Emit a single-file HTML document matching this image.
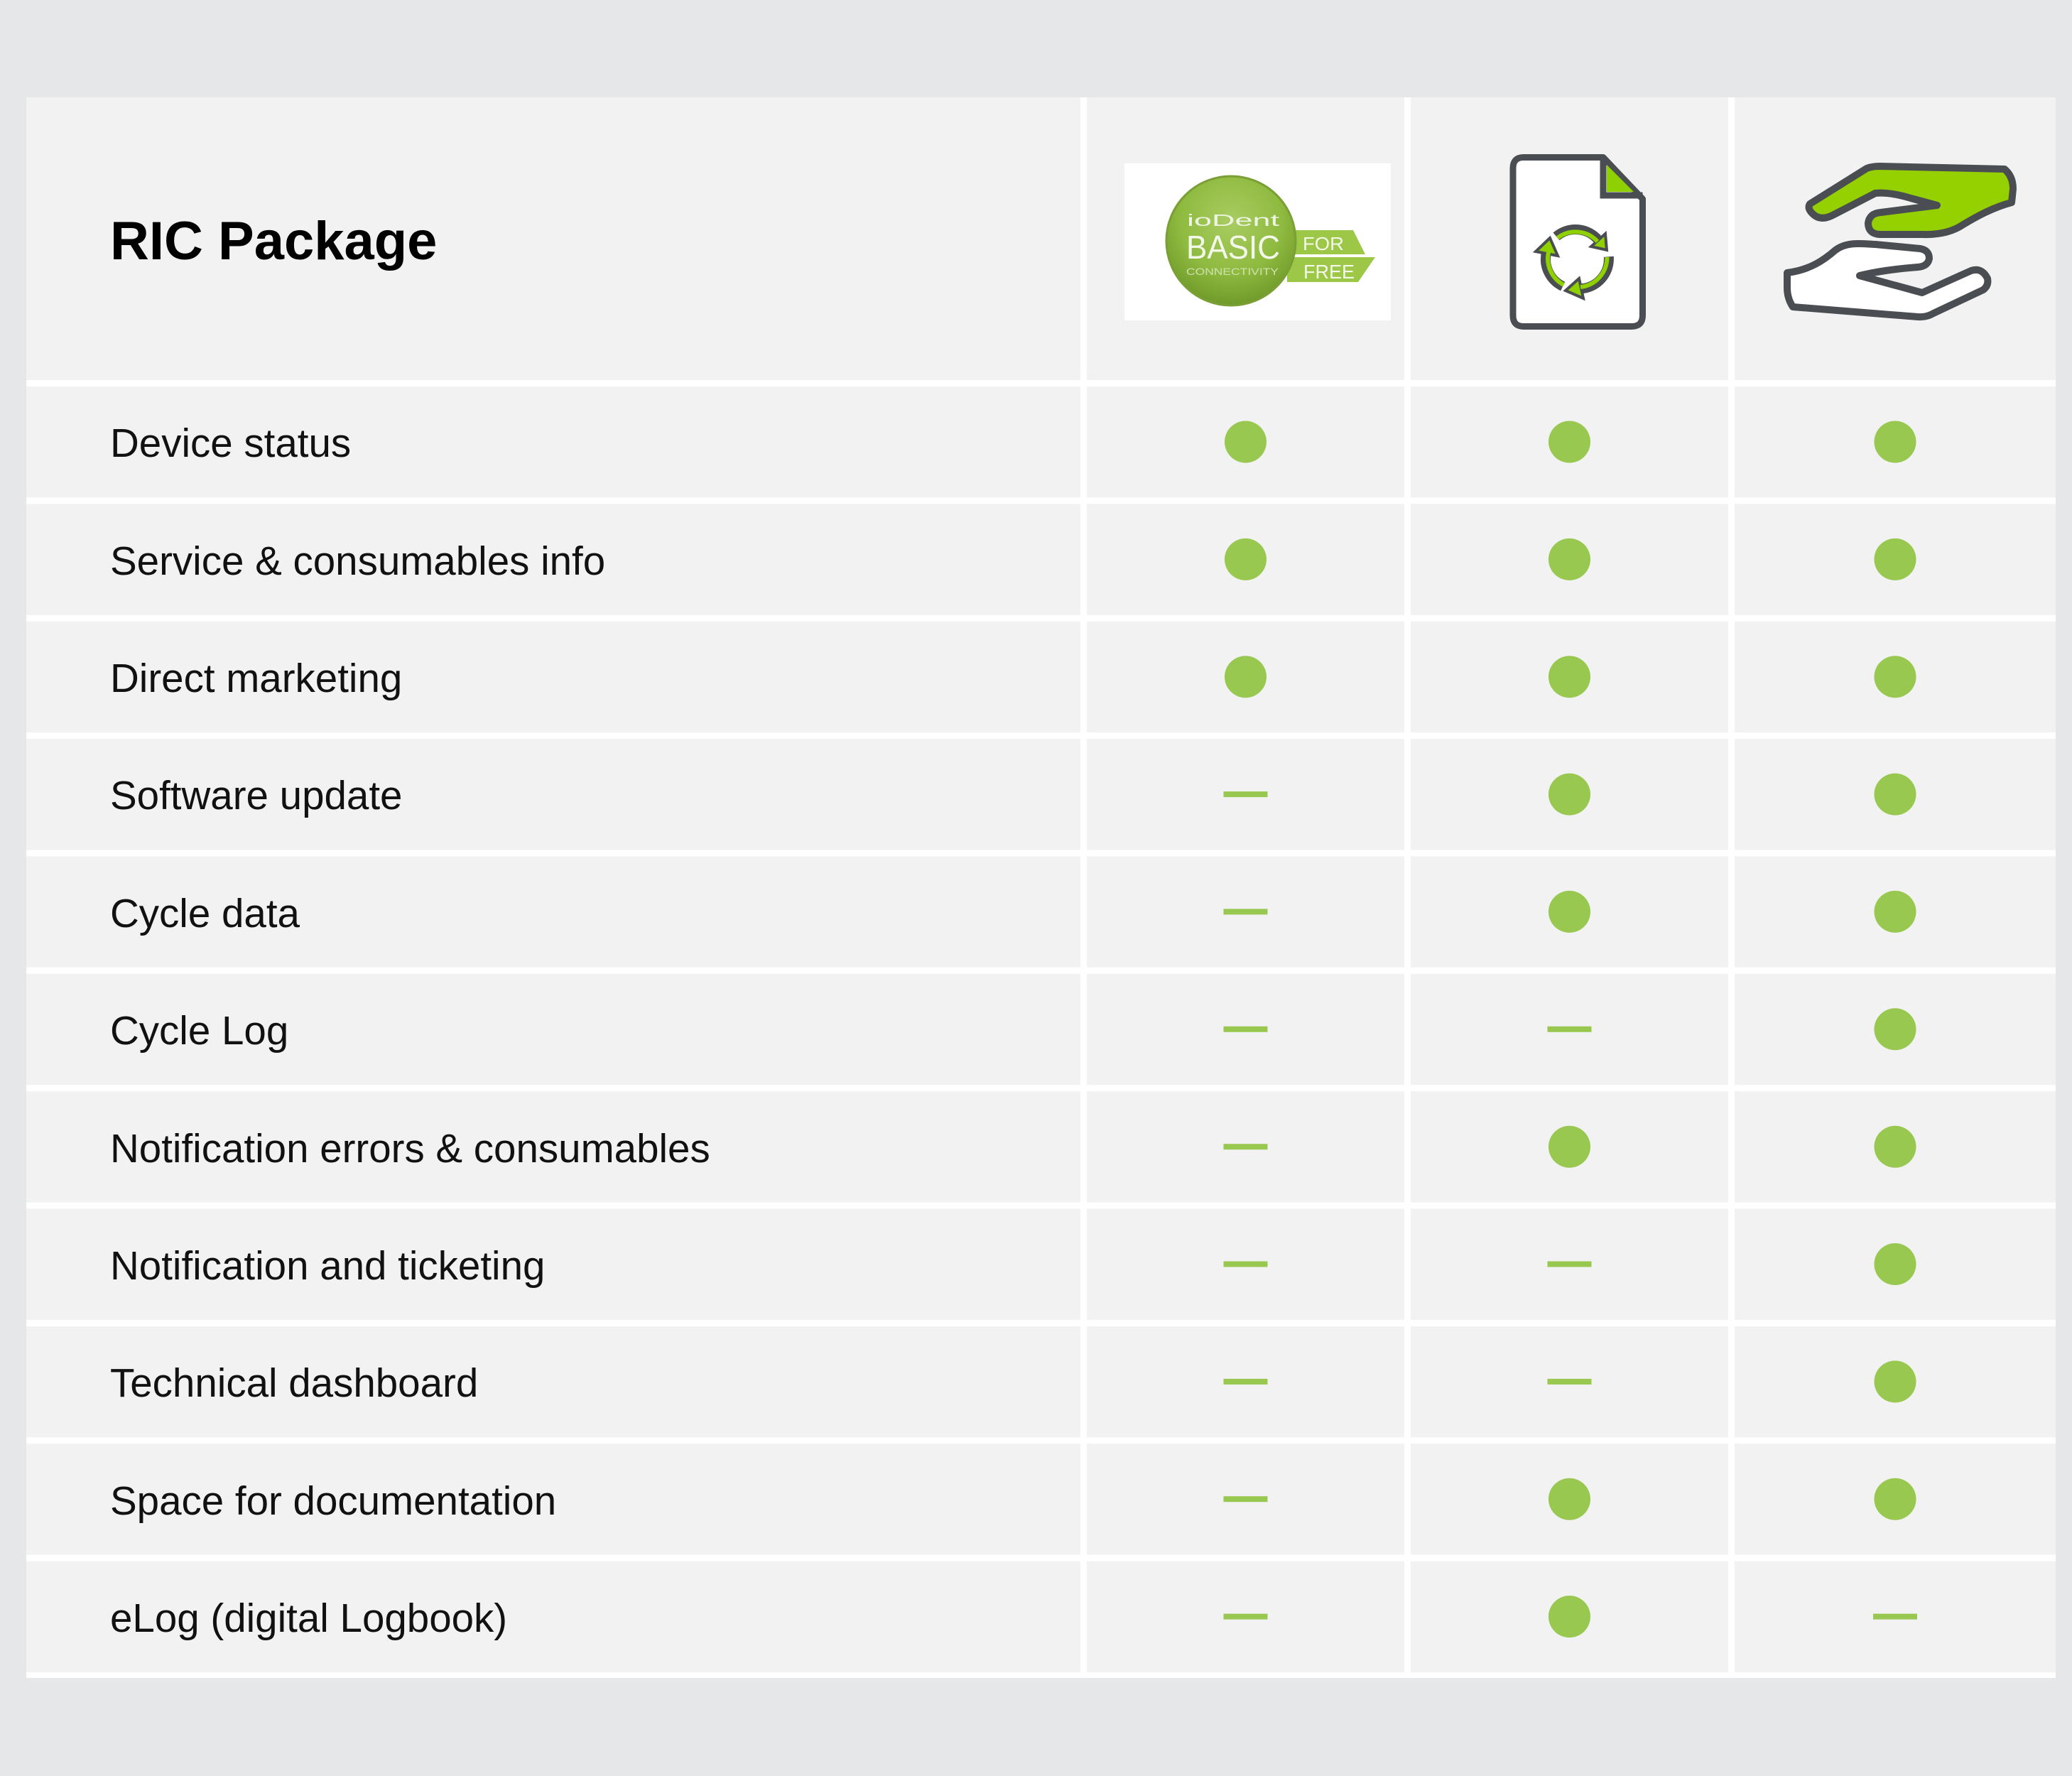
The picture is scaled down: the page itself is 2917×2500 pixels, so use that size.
<!DOCTYPE html>
<html>
<head>
<meta charset="utf-8">
<style>
  html,body{margin:0;padding:0;background:#e6e7e8;}
  svg{display:block;}
  text{font-family:"Liberation Sans", Arial, sans-serif;}
</style>
</head>
<body>
<svg width="2917" height="2500" viewBox="0 0 2917 2500" xmlns="http://www.w3.org/2000/svg">
  <defs>
    <radialGradient id="lg" cx="50%" cy="35%" r="65%">
      <stop offset="0" stop-color="#a9cc62"/>
      <stop offset="0.6" stop-color="#8fbb40"/>
      <stop offset="1" stop-color="#6f9a2a"/>
    </radialGradient>
  </defs>
  <rect x="0" y="0" width="2917" height="2500" fill="#e6e7e8"/>
  <!-- table base (white separators) -->
  <rect x="37" y="137" width="2857" height="2225" fill="#ffffff"/>

  <!-- header cells -->
  <g fill="#f1f2f1">
    <rect x="37" y="137" width="1484" height="398"/>
    <rect x="1530" y="137" width="447" height="398"/>
    <rect x="1986" y="137" width="447" height="398"/>
    <rect x="2442" y="137" width="452" height="398"/>
  </g>

  <!-- body cells -->
  <g fill="#f1f2f1">
    <rect x="37" y="544" width="1484" height="156.4"/><rect x="1530" y="544" width="447" height="156.4"/><rect x="1986" y="544" width="447" height="156.4"/><rect x="2442" y="544" width="452" height="156.4"/>
    <rect x="37" y="709.4" width="1484" height="156.4"/><rect x="1530" y="709.4" width="447" height="156.4"/><rect x="1986" y="709.4" width="447" height="156.4"/><rect x="2442" y="709.4" width="452" height="156.4"/>
    <rect x="37" y="874.7" width="1484" height="156.4"/><rect x="1530" y="874.7" width="447" height="156.4"/><rect x="1986" y="874.7" width="447" height="156.4"/><rect x="2442" y="874.7" width="452" height="156.4"/>
    <rect x="37" y="1040.1" width="1484" height="156.4"/><rect x="1530" y="1040.1" width="447" height="156.4"/><rect x="1986" y="1040.1" width="447" height="156.4"/><rect x="2442" y="1040.1" width="452" height="156.4"/>
    <rect x="37" y="1205.4" width="1484" height="156.4"/><rect x="1530" y="1205.4" width="447" height="156.4"/><rect x="1986" y="1205.4" width="447" height="156.4"/><rect x="2442" y="1205.4" width="452" height="156.4"/>
    <rect x="37" y="1370.8" width="1484" height="156.4"/><rect x="1530" y="1370.8" width="447" height="156.4"/><rect x="1986" y="1370.8" width="447" height="156.4"/><rect x="2442" y="1370.8" width="452" height="156.4"/>
    <rect x="37" y="1536.2" width="1484" height="156.4"/><rect x="1530" y="1536.2" width="447" height="156.4"/><rect x="1986" y="1536.2" width="447" height="156.4"/><rect x="2442" y="1536.2" width="452" height="156.4"/>
    <rect x="37" y="1701.5" width="1484" height="156.4"/><rect x="1530" y="1701.5" width="447" height="156.4"/><rect x="1986" y="1701.5" width="447" height="156.4"/><rect x="2442" y="1701.5" width="452" height="156.4"/>
    <rect x="37" y="1866.9" width="1484" height="156.4"/><rect x="1530" y="1866.9" width="447" height="156.4"/><rect x="1986" y="1866.9" width="447" height="156.4"/><rect x="2442" y="1866.9" width="452" height="156.4"/>
    <rect x="37" y="2032.2" width="1484" height="156.4"/><rect x="1530" y="2032.2" width="447" height="156.4"/><rect x="1986" y="2032.2" width="447" height="156.4"/><rect x="2442" y="2032.2" width="452" height="156.4"/>
    <rect x="37" y="2197.6" width="1484" height="156.4"/><rect x="1530" y="2197.6" width="447" height="156.4"/><rect x="1986" y="2197.6" width="447" height="156.4"/><rect x="2442" y="2197.6" width="452" height="156.4"/>
  </g>

  <!-- Header title -->
  <text x="155" y="365" font-size="76" font-weight="bold" fill="#000">RIC Package</text>

  <!-- Logo: ioDent BASIC -->
  <rect x="1583" y="230" width="375" height="221" fill="#ffffff"/>
  <polygon points="1812,324 1905,324 1922,358 1812,358" fill="#9cc747"/>
  <polygon points="1812,362 1936,362 1912,397 1812,397" fill="#9cc747"/>
  <circle cx="1733" cy="339" r="91" fill="url(#lg)" stroke="#7a9f35" stroke-width="3"/>
  <text x="1671" y="318" font-size="23" fill="#eef4e2" textLength="130" lengthAdjust="spacingAndGlyphs">ioDent</text>
  <text x="1670" y="364" font-size="46" fill="#f3f8ea" textLength="132" lengthAdjust="spacingAndGlyphs">BASIC</text>
  <text x="1670" y="387" font-size="14" fill="#cfe0ae" textLength="130" lengthAdjust="spacingAndGlyphs">CONNECTIVITY</text>
  <text x="1834" y="352" font-size="26" fill="#f3f8ea" textLength="58" lengthAdjust="spacingAndGlyphs">FOR</text>
  <text x="1835" y="392" font-size="28" fill="#f3f8ea" textLength="72" lengthAdjust="spacingAndGlyphs">FREE</text>

  <!-- Document with recycle icon -->
  <path d="M2145,221.5 L2257,221.5 L2312.5,280 L2312.5,444 Q2312.5,459.5 2297,459.5 L2145,459.5 Q2130,459.5 2130,444 L2130,237 Q2130,221.5 2145,221.5 Z" fill="#ffffff" stroke="#4a4d52" stroke-width="9" stroke-linejoin="round"/>
  <polygon points="2262,232 2262,270 2300,270" fill="#8fd100"/>
  <path d="M2257,221.5 L2257,275 L2312.5,275" fill="none" stroke="#4a4d52" stroke-width="9"/>
  <g fill="none" stroke-linecap="butt">
    <path d="M2191,332.8 A42,42 0 0 1 2250.2,338" stroke="#4a4d52" stroke-width="14"/>
    <path d="M2264.8,361.3 A42,42 0 0 1 2225.3,406.4" stroke="#4a4d52" stroke-width="14"/>
    <path d="M2200.2,403 A42,42 0 0 1 2177.4,354.1" stroke="#4a4d52" stroke-width="14"/>
  </g>
  <g fill="#8fd100" stroke="#4a4d52" stroke-width="4" stroke-linejoin="miter">
    <polygon points="2262,352 2260,329 2240,347"/>
    <polygon points="2204,409 2223,392 2229,420"/>
    <polygon points="2182,335 2162,354 2193,360"/>
  </g>
  <g fill="none" stroke="#8fd100" stroke-width="6">
    <path d="M2192.5,335 A42,42 0 0 1 2249,340"/>
    <path d="M2262.5,362 A42,42 0 0 1 2225,404"/>
    <path d="M2201.5,401 A42,42 0 0 1 2180,355"/>
  </g>

  <!-- Hands icon -->
  <path d="M2548,287 L2628,237 Q2636,234 2646,234 L2822,238 Q2834,248 2834,266 L2832,285 C2806,292 2784,304 2764,316 Q2742,331 2707,330 L2646,330 Q2630,329 2630,314 Q2632,300 2648,299 L2727,289 L2690,279 Q2660,270 2640,272 L2580,303 Q2562,312 2551,300 Q2544,293 2548,287 Z" fill="#95d100" stroke="#4a4d52" stroke-width="10" stroke-linejoin="round"/>
  <path d="M2516,384 C2548,380 2568,366 2584,352 C2600,340 2620,343 2640,344 L2703,350 Q2716,352 2716,364 Q2714,375 2700,376 Q2650,380 2618,388 L2706,412 L2775,381 Q2790,376 2798,392 Q2800,402 2792,408 L2722,441 Q2712,447 2700,446 L2524,432 Q2516,420 2516,405 Z" fill="#ffffff" stroke="#4a4d52" stroke-width="10" stroke-linejoin="round"/>

  <!-- Row labels -->
  <g font-size="56.5" fill="#111">
    <text x="155" y="643">Device status</text>
    <text x="155" y="809">Service &amp; consumables info</text>
    <text x="155" y="974">Direct marketing</text>
    <text x="155" y="1139">Software update</text>
    <text x="155" y="1305">Cycle data</text>
    <text x="155" y="1470">Cycle Log</text>
    <text x="155" y="1636">Notification errors &amp; consumables</text>
    <text x="155" y="1801">Notification and ticketing</text>
    <text x="155" y="1966">Technical dashboard</text>
    <text x="155" y="2132">Space for documentation</text>
    <text x="155" y="2297">eLog (digital Logbook)</text>
  </g>

  <!-- Marks -->
  <g fill="#98c850">
    <!-- row 0 -->
    <circle cx="1753.5" cy="622" r="29.5"/><circle cx="2209.5" cy="622" r="29.5"/><circle cx="2668" cy="622" r="29.5"/>
    <!-- row 1 -->
    <circle cx="1753.5" cy="787.4" r="29.5"/><circle cx="2209.5" cy="787.4" r="29.5"/><circle cx="2668" cy="787.4" r="29.5"/>
    <!-- row 2 -->
    <circle cx="1753.5" cy="952.7" r="29.5"/><circle cx="2209.5" cy="952.7" r="29.5"/><circle cx="2668" cy="952.7" r="29.5"/>
    <!-- row 3 -->
    <rect x="1722.5" y="1114.1" width="62" height="8"/><circle cx="2209.5" cy="1118.1" r="29.5"/><circle cx="2668" cy="1118.1" r="29.5"/>
    <!-- row 4 -->
    <rect x="1722.5" y="1279.4" width="62" height="8"/><circle cx="2209.5" cy="1283.4" r="29.5"/><circle cx="2668" cy="1283.4" r="29.5"/>
    <!-- row 5 -->
    <rect x="1722.5" y="1444.8" width="62" height="8"/><rect x="2178.5" y="1444.8" width="62" height="8"/><circle cx="2668" cy="1448.8" r="29.5"/>
    <!-- row 6 -->
    <rect x="1722.5" y="1610.2" width="62" height="8"/><circle cx="2209.5" cy="1614.2" r="29.5"/><circle cx="2668" cy="1614.2" r="29.5"/>
    <!-- row 7 -->
    <rect x="1722.5" y="1775.5" width="62" height="8"/><rect x="2178.5" y="1775.5" width="62" height="8"/><circle cx="2668" cy="1779.5" r="29.5"/>
    <!-- row 8 -->
    <rect x="1722.5" y="1940.9" width="62" height="8"/><rect x="2178.5" y="1940.9" width="62" height="8"/><circle cx="2668" cy="1944.9" r="29.5"/>
    <!-- row 9 -->
    <rect x="1722.5" y="2106.2" width="62" height="8"/><circle cx="2209.5" cy="2110.2" r="29.5"/><circle cx="2668" cy="2110.2" r="29.5"/>
    <!-- row 10 -->
    <rect x="1722.5" y="2271.6" width="62" height="8"/><circle cx="2209.5" cy="2275.6" r="29.5"/><rect x="2637" y="2271.6" width="62" height="8"/>
  </g>
</svg>
</body>
</html>
